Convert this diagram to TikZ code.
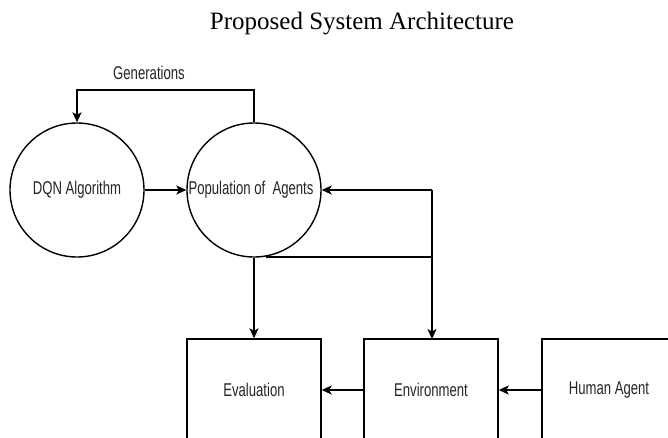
\documentclass[tikz,border=0pt]{standalone}
\usepackage{fontspec}
\setmainfont{Liberation Serif}
\newfontfamily\diasans{Liberation Sans}
\usetikzlibrary{arrows.meta}
\tikzset{
  lbl/.style={font=\diasans\fontsize{18.5}{20}\selectfont, text=black!85, inner sep=0pt},
  bubble/.style={draw, circle, minimum size=134pt, line width=1.4pt, inner sep=0pt},
  blockbox/.style={draw, rectangle, minimum width=134pt, minimum height=102pt, line width=1.4pt, inner sep=0pt},
  conn/.style={line width=1.4pt, -{Stealth[length=10pt,width=9pt,inset=2.5pt]}},
  plainline/.style={line width=1.7pt}
}
\newcommand{\sq}[1]{\scalebox{0.71}[1]{#1}}
\begin{document}
\begin{tikzpicture}[x=1pt,y=-1pt]
\useasboundingbox (0,0) rectangle (668,437);
\fill[white] (0,0) rectangle (668,437);
\clip (0,0) rectangle (668,437);

\node[font=\fontsize{25}{28}\selectfont, inner sep=0pt] (title) at (362,24) {Proposed System Architecture};

\node[bubble] (dqn) at (77,190) {};
\node[lbl] (dqnt) at (77,190) {\sq{DQN Algorithm}};
\node[bubble] (pop) at (254,190) {};
\node[lbl] (popt) at (251,190) {\sq{Population of\ \ Agents}};

\node[blockbox] (eval) at (254,390) {};
\node[lbl] (evalt) at (254,390) {\sq{Evaluation}};
\node[blockbox] (env) at (431,390) {};
\node[lbl] (envt) at (431,390) {\sq{Environment}};
\node[blockbox] (human) at (609,390) {};
\node[lbl] (humant) at (609,390) {\sq{Human Agent}};

\coordinate (topr) at (254,90);
\coordinate (topl) at (77,90);
\node[lbl] (gen) at (149,73) {\sq{Generations}};
\draw[conn] (pop.north) -- (topr) -- (topl) -- (dqn.north);

\draw[conn] (dqn.east) -- (pop.west);

\coordinate (junc) at (432,190);
\draw[conn] (junc) -- (pop.east);
\draw[conn] (junc) -- (432,339) coordinate (envin);
\coordinate (hjunc) at (432,255.6);
\draw[plainline] (pop.-80) -- (pop.-80 -| hjunc);

\draw[conn] (pop.south) -- (eval.north);
\draw[conn] (env.west) -- (eval.east);
\draw[conn] (human.west) -- (env.east);
\end{tikzpicture}
\end{document}
